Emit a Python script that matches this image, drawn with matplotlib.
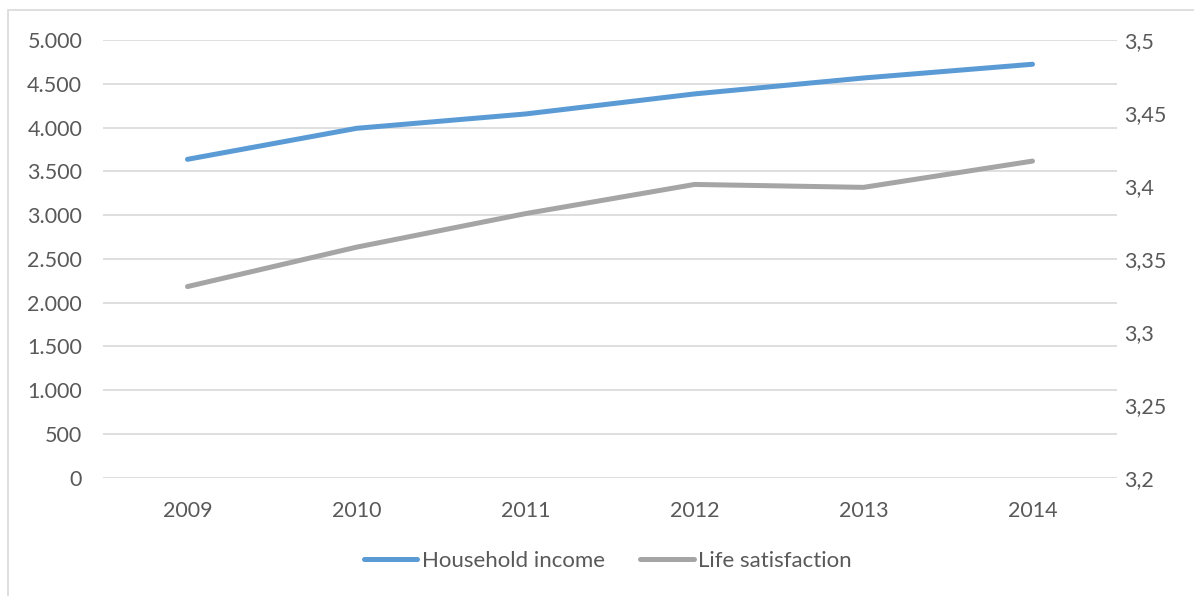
import matplotlib
matplotlib.use('Agg')
import matplotlib.pyplot as plt
from matplotlib.ticker import MultipleLocator, FuncFormatter
from matplotlib.patches import Rectangle

# data
years = ['2009', '2010', '2011', '2012', '2013', '2014']
household_income = [3637, 3991, 4155, 4384, 4566, 4723]
life_satisfaction = [3.331, 3.358, 3.381, 3.401, 3.399, 3.417]

text_col = '#595959'
grid_col = '#d9d9d9'
blue = '#5b9bd5'
gray = '#a5a5a5'

plt.rcParams['font.family'] = ['Lato', 'DejaVu Sans']
plt.rcParams['font.size'] = 15.5

fig = plt.figure(figsize=(11.94, 5.96), dpi=100)
ax = fig.add_axes([103/1194, 1-477.7/596, (1117-103)/1194, (477.7-40)/596])
ax2 = ax.twinx()

x = range(len(years))
l1, = ax.plot(x, household_income, color=blue, lw=3.6, solid_capstyle='round',
              solid_joinstyle='round', label='Household income')
l2, = ax2.plot(x, life_satisfaction, color=gray, lw=3.6, solid_capstyle='round',
               solid_joinstyle='round', label='Life satisfaction')

ax.set_xlim(-0.5, len(years) - 0.5)
ax.set_xticks(list(x))
ax.set_xticklabels(years)
ax.set_ylim(0, 5000)
ax.yaxis.set_major_locator(MultipleLocator(500))
ax.yaxis.set_major_formatter(FuncFormatter(lambda v, p: '{:,.0f}'.format(v).replace(',', '.')))
ax.grid(axis='y', color=grid_col, lw=1.2)
ax.set_axisbelow(True)

ax2.set_ylim(3.2, 3.5)
ax2.yaxis.set_major_locator(MultipleLocator(0.05))
ax2.yaxis.set_major_formatter(FuncFormatter(lambda v, p: '{:g}'.format(round(v, 2)).replace('.', ',')))

for a in (ax, ax2):
    for s in a.spines.values():
        s.set_visible(False)
    a.tick_params(length=0, colors=text_col, labelsize=15.5)
ax.tick_params(axis='y', pad=15)
ax.tick_params(axis='x', pad=17)
ax2.tick_params(axis='y', pad=5)

fig.legend(handles=[l1, l2], loc='center', bbox_to_anchor=(608/1194, 1-561/596),
           ncol=2, frameon=False, handlelength=2.4, handletextpad=0.2,
           columnspacing=1.6, labelcolor=text_col, fontsize=16)

# chart area border
fig.patches.append(Rectangle((8/1194, -0.1), 1.2, 1-10/596+0.1, transform=fig.transFigure,
                             fill=False, edgecolor=grid_col, lw=1.2))

fig.savefig('out.png', dpi=100)
